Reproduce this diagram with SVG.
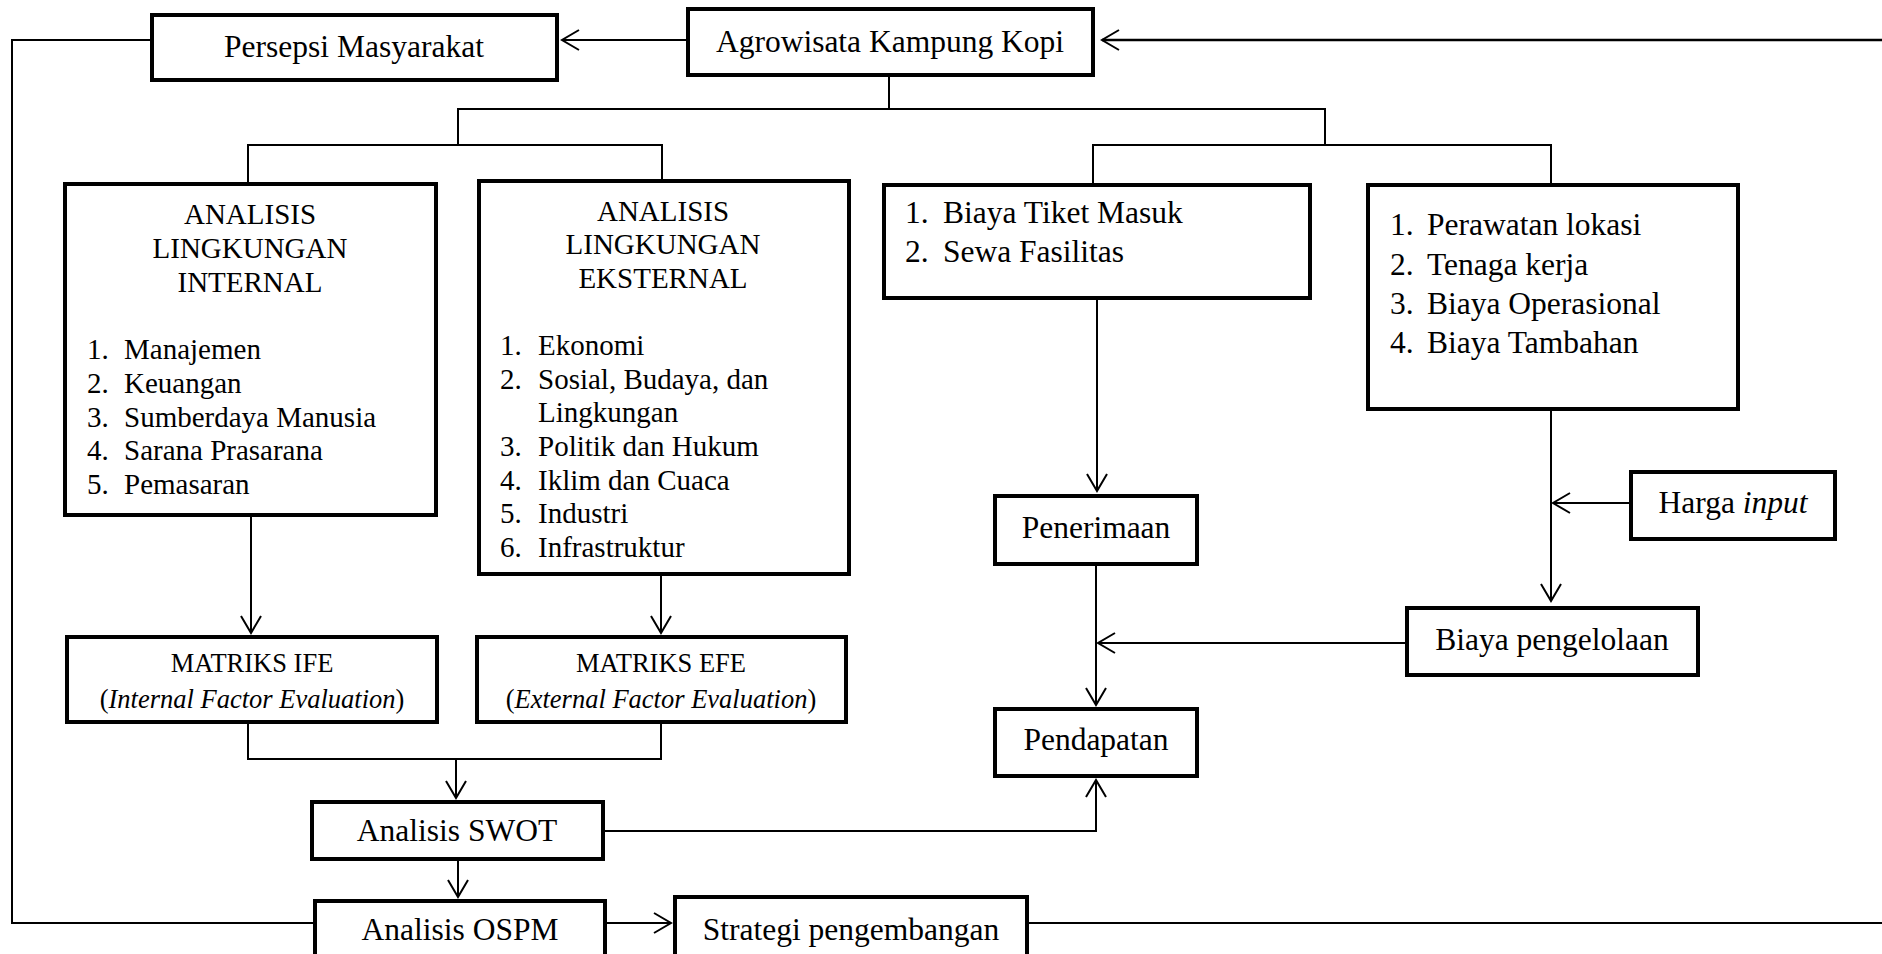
<svg xmlns="http://www.w3.org/2000/svg" width="1882" height="954" viewBox="0 0 1882 954">
<style>
.box{fill:#fff;stroke:#000;stroke-width:4;stroke-linejoin:miter}
.ln{fill:none;stroke:#000;stroke-width:2}
text{font-family:"Liberation Serif","Times New Roman",serif;fill:#000}
.t{font-size:31.5px}
.s{font-size:29px}
.m{font-size:26.5px}
.c{text-anchor:middle}
.i{font-style:italic}
</style>
<defs>
<marker id="arr" viewBox="-20 -12 22 24" refX="0" refY="0" markerWidth="22" markerHeight="24" markerUnits="userSpaceOnUse" orient="auto">
<path d="M-17,-10 L0,0 L-17,10" fill="none" stroke="#000" stroke-width="2"/>
</marker>
</defs>
<rect x="0" y="0" width="1882" height="954" fill="#fff"/>

<g id="connectors">
<line class="ln" x1="686" y1="40" x2="562" y2="40" marker-end="url(#arr)"/>
<polyline class="ln" points="150,40 12,40 12,923 313,923"/>
<line class="ln" x1="1882" y1="40" x2="1102" y2="40" marker-end="url(#arr)" style="stroke-width:2.5"/>
<line class="ln" x1="1029" y1="923" x2="1882" y2="923"/>
<line class="ln" x1="889" y1="77" x2="889" y2="109"/>
<polyline class="ln" points="458,145 458,109 1325,109 1325,145"/>
<polyline class="ln" points="248,182 248,145 662,145 662,179"/>
<polyline class="ln" points="1093,183 1093,145 1551,145 1551,183"/>
<line class="ln" x1="251" y1="517" x2="251" y2="633" marker-end="url(#arr)"/>
<line class="ln" x1="661" y1="576" x2="661" y2="633" marker-end="url(#arr)"/>
<polyline class="ln" points="248,724 248,759 661,759 661,724"/>
<line class="ln" x1="456" y1="759" x2="456" y2="798" marker-end="url(#arr)"/>
<line class="ln" x1="458" y1="861" x2="458" y2="897" marker-end="url(#arr)"/>
<line class="ln" x1="607" y1="923" x2="671" y2="923" marker-end="url(#arr)"/>
<polyline class="ln" points="605,831 1096,831 1096,780" marker-end="url(#arr)"/>
<line class="ln" x1="1097" y1="300" x2="1097" y2="491" marker-end="url(#arr)"/>
<line class="ln" x1="1096" y1="566" x2="1096" y2="705" marker-end="url(#arr)"/>
<line class="ln" x1="1405" y1="643" x2="1098" y2="643" marker-end="url(#arr)"/>
<line class="ln" x1="1551" y1="411" x2="1551" y2="601" marker-end="url(#arr)"/>
<line class="ln" x1="1629" y1="503" x2="1553" y2="503" marker-end="url(#arr)"/>
</g>

<g id="persepsi">
<rect class="box" x="152" y="15" width="405" height="65"/>
<text class="t c" x="354" y="57">Persepsi Masyarakat</text>
</g>

<g id="agrowisata">
<rect class="box" x="688" y="9" width="405" height="66"/>
<text class="t c" x="890" y="52">Agrowisata Kampung Kopi</text>
</g>

<g id="internal">
<rect class="box" x="65" y="184" width="371" height="331"/>
<text class="s c" x="250" y="224">ANALISIS</text>
<text class="s c" x="250" y="258">LINGKUNGAN</text>
<text class="s c" x="250" y="292">INTERNAL</text>
<text class="s" x="87" y="359">1.</text><text class="s" x="124" y="359">Manajemen</text>
<text class="s" x="87" y="393">2.</text><text class="s" x="124" y="393">Keuangan</text>
<text class="s" x="87" y="427">3.</text><text class="s" x="124" y="427">Sumberdaya Manusia</text>
<text class="s" x="87" y="460">4.</text><text class="s" x="124" y="460">Sarana Prasarana</text>
<text class="s" x="87" y="494">5.</text><text class="s" x="124" y="494">Pemasaran</text>
</g>

<g id="external">
<rect class="box" x="479" y="181" width="370" height="393"/>
<text class="s c" x="663" y="221">ANALISIS</text>
<text class="s c" x="663" y="254">LINGKUNGAN</text>
<text class="s c" x="663" y="288">EKSTERNAL</text>
<text class="s" x="500" y="355">1.</text><text class="s" x="538" y="355">Ekonomi</text>
<text class="s" x="500" y="389">2.</text><text class="s" x="538" y="389">Sosial, Budaya, dan</text>
<text class="s" x="538" y="422">Lingkungan</text>
<text class="s" x="500" y="456">3.</text><text class="s" x="538" y="456">Politik dan Hukum</text>
<text class="s" x="500" y="490">4.</text><text class="s" x="538" y="490">Iklim dan Cuaca</text>
<text class="s" x="500" y="523">5.</text><text class="s" x="538" y="523">Industri</text>
<text class="s" x="500" y="557">6.</text><text class="s" x="538" y="557">Infrastruktur</text>
</g>

<g id="penerimaan-items">
<rect class="box" x="884" y="185" width="426" height="113"/>
<text class="t" x="905" y="223">1.</text><text class="t" x="943" y="223">Biaya Tiket Masuk</text>
<text class="t" x="905" y="262">2.</text><text class="t" x="943" y="262">Sewa Fasilitas</text>
</g>

<g id="biaya-items">
<rect class="box" x="1368" y="185" width="370" height="224"/>
<text class="t" x="1390" y="235">1.</text><text class="t" x="1427" y="235">Perawatan lokasi</text>
<text class="t" x="1390" y="275">2.</text><text class="t" x="1427" y="275">Tenaga kerja</text>
<text class="t" x="1390" y="314">3.</text><text class="t" x="1427" y="314">Biaya Operasional</text>
<text class="t" x="1390" y="353">4.</text><text class="t" x="1427" y="353">Biaya Tambahan</text>
</g>

<g id="penerimaan">
<rect class="box" x="995" y="496" width="202" height="68"/>
<text class="t c" x="1096" y="538">Penerimaan</text>
</g>

<g id="harga-input">
<rect class="box" x="1631" y="472" width="204" height="67"/>
<text class="t c" x="1733" y="513">Harga <tspan class="i">input</tspan></text>
</g>

<g id="biaya-pengelolaan">
<rect class="box" x="1407" y="608" width="291" height="67"/>
<text class="t c" x="1552" y="650">Biaya pengelolaan</text>
</g>

<g id="pendapatan">
<rect class="box" x="995" y="709" width="202" height="67"/>
<text class="t c" x="1096" y="750">Pendapatan</text>
</g>

<g id="ife">
<rect class="box" x="67" y="637" width="370" height="85"/>
<text class="m c" x="252" y="672">MATRIKS IFE</text>
<text class="m c" x="252" y="708">(<tspan class="i">Internal Factor Evaluation</tspan>)</text>
</g>

<g id="efe">
<rect class="box" x="477" y="637" width="369" height="85"/>
<text class="m c" x="661" y="672">MATRIKS EFE</text>
<text class="m c" x="661" y="708">(<tspan class="i">External Factor Evaluation</tspan>)</text>
</g>

<g id="swot">
<rect class="box" x="312" y="802" width="291" height="57"/>
<text class="t c" x="457" y="841">Analisis SWOT</text>
</g>

<g id="ospm">
<rect class="box" x="315" y="901" width="290" height="70"/>
<text class="t c" x="460" y="940">Analisis OSPM</text>
</g>

<g id="strategi">
<rect class="box" x="675" y="897" width="352" height="74"/>
<text class="t c" x="851" y="940">Strategi pengembangan</text>
</g>
</svg>
